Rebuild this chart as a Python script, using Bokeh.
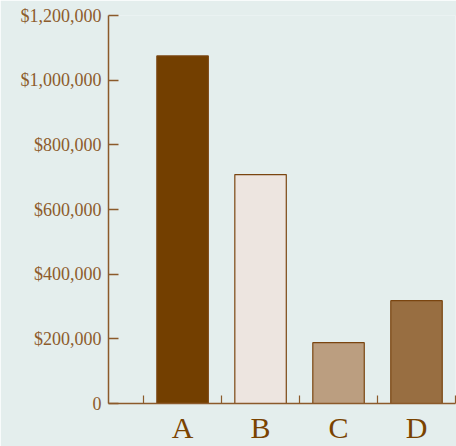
from bokeh.plotting import figure
from bokeh.models import Range1d, FixedTicker, NumeralTickFormatter, ColumnDataSource
from bokeh.embed import file_html
from bokeh.resources import INLINE

categories = ["A", "B", "C", "D"]
values = [1075000, 708000, 188000, 318000]
bar_colors = ["#733f00", "#ede5e0", "#bb9e80", "#986e41"]
y_ticks = [0, 200000, 400000, 600000, 800000, 1000000, 1200000]

centers = [i + 0.5 for i in range(len(categories))]
bounds = [float(i) for i in range(len(categories) + 1)]

src = ColumnDataSource(dict(x=centers, top=values, color=bar_colors))

bg = "#e4eeed"
p = figure(width=456, height=446, output_backend="svg", toolbar_location=None,
           x_range=Range1d(-0.45, 4.0), y_range=Range1d(0, 1200000),
           min_border_left=108, min_border_right=1, min_border_top=15, min_border_bottom=43)
p.background_fill_color = bg
p.border_fill_color = bg
p.outline_line_color = None
p.grid.visible = False

p.vbar(x="x", top="top", width=0.66, bottom=0, fill_color="color",
       line_color="#7a4510", line_width=1.2, source=src)

brown = "#8b5a2b"
# x axis
xa = p.xaxis[0]
xa.ticker = FixedTicker(ticks=centers, minor_ticks=bounds)
xa.major_label_overrides = {c: lab for c, lab in zip(centers, categories)}
xa.major_tick_in = 0
xa.major_tick_out = 0
xa.minor_tick_in = 8
xa.minor_tick_out = 0
xa.minor_tick_line_color = brown
xa.minor_tick_line_width = 1.2
xa.axis_line_color = brown
xa.axis_line_width = 1.5
xa.major_label_text_font = "Liberation Serif"
xa.major_label_text_font_size = "30px"
xa.major_label_text_line_height = 1.0
xa.major_label_text_color = "#7a4300"
xa.major_label_standoff = 7

ya = p.yaxis[0]
ya.ticker = FixedTicker(ticks=y_ticks, minor_ticks=[])
ya.formatter = NumeralTickFormatter(format="$0,0")
ya.major_label_overrides = {0: "0"}
ya.major_tick_in = 10
ya.major_tick_out = 0
ya.major_tick_line_color = brown
ya.major_tick_line_width = 1.5
ya.axis_line_color = brown
ya.axis_line_width = 1.5
ya.major_label_text_font = "Liberation Serif"
ya.major_label_text_font_size = "18px"
ya.major_label_text_color = "#8d5c2c"
ya.major_label_standoff = 7

html = file_html(p, INLINE)
html = html.replace("<body>", '<body style="margin:0; overflow:hidden; background:%s;">' % bg, 1)
open("out.html", "w").write(html)
